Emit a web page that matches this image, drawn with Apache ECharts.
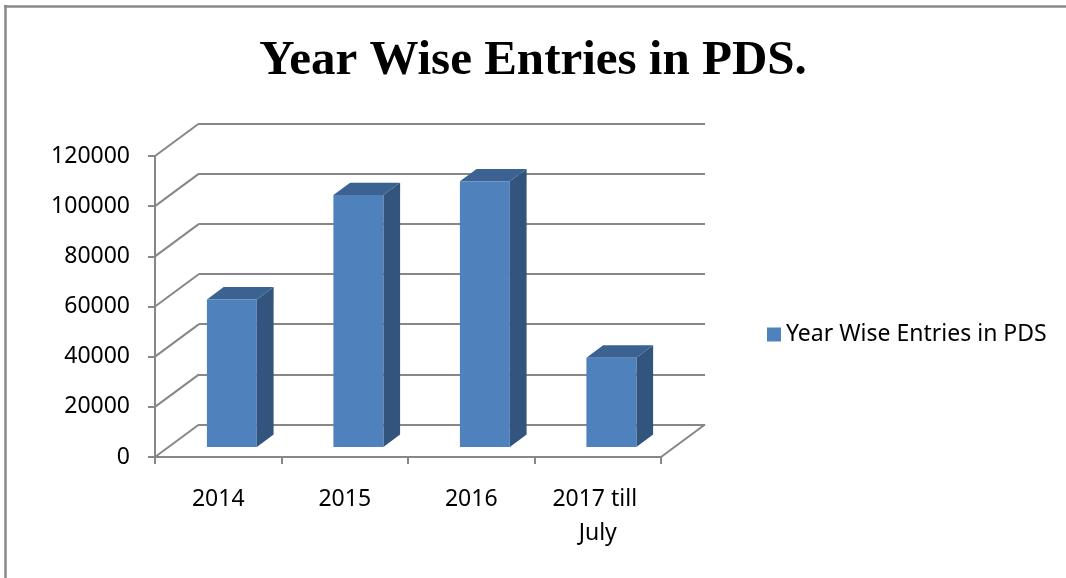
<!DOCTYPE html>
<html>
<head>
<meta charset="utf-8">
<script src="https://cdn.jsdelivr.net/npm/echarts@6/dist/echarts.min.js"></script>
<style>
html,body{margin:0;padding:0;background:#fff;}
#chart{width:1066px;height:578px;}
</style>
</head>
<body>
<div id="chart"></div>
<script>
// ---- data ----
const categories = ['2014', '2015', '2016', '2017 till July'];
const entries = [58800, 100400, 105900, 35600];
const seriesName = 'Year Wise Entries in PDS';
const titleText = 'Year Wise Entries in PDS.';
const yMin = 0, yMax = 120000, yInterval = 20000;

// ---- layout / style constants ----
const DX = 44, DY = 32.5;           // oblique depth offset of the back wall
const FRONT = {left: 155, top: 156, width: 506, height: 301};
const D0 = 0.31, D1 = 0.69;         // bar depth span (fraction of full depth)
const BAR_W = 0.395;                // bar width fraction of the band
const GRID_COLOR = '#878787';
const FONT = 'Noto Sans';

const yTicks = [];
for (let v = yMin; v <= yMax; v += yInterval) yTicks.push(v);

const chart = echarts.init(document.getElementById('chart'), null, {renderer: 'canvas'});

const option = {
  backgroundColor: '#fff',
  animation: false,
  title: {
    text: titleText,
    left: 'center',
    top: 32,
    textStyle: {fontFamily: 'Liberation Serif', fontWeight: 'bold', fontSize: 49, color: '#000'}
  },
  legend: {
    data: [seriesName],
    orient: 'vertical',
    left: 762,
    top: 318,
    icon: 'rect',
    itemWidth: 14,
    itemHeight: 14,
    textStyle: {fontFamily: FONT, fontSize: 23, color: '#000'}
  },
  graphic: [
    {type: 'line', shape: {x1: 4, y1: 6.5, x2: 1066, y2: 6.5}, style: {stroke: '#8a8a8a', lineWidth: 2.5}, silent: true},
    {type: 'line', shape: {x1: 5.5, y1: 5, x2: 5.5, y2: 578}, style: {stroke: '#8a8a8a', lineWidth: 2.5}, silent: true}
  ],
  grid: [
    {left: FRONT.left, top: FRONT.top, width: FRONT.width, height: FRONT.height},
    {left: FRONT.left + DX, top: FRONT.top - DY, width: FRONT.width, height: FRONT.height}
  ],
  xAxis: [
    {
      type: 'category', gridIndex: 0, data: categories,
      axisLine: {show: true, lineStyle: {color: GRID_COLOR, width: 2}},
      axisTick: {show: true, length: 7, lineStyle: {color: GRID_COLOR, width: 2}},
      axisLabel: {
        margin: 25, color: '#000', fontFamily: FONT, fontSize: 23, lineHeight: 34,
        width: 110, overflow: 'break', interval: 0
      },
      splitLine: {show: false}
    },
    {
      type: 'category', gridIndex: 1, data: categories,
      axisLine: {show: false}, axisTick: {show: false}, axisLabel: {show: false}, splitLine: {show: false}
    }
  ],
  yAxis: [
    {
      type: 'value', gridIndex: 0, min: yMin, max: yMax, interval: yInterval,
      axisLine: {show: true, lineStyle: {color: GRID_COLOR, width: 2}},
      axisTick: {show: true, length: 7, lineStyle: {color: GRID_COLOR, width: 2}},
      axisLabel: {margin: 25, color: '#000', fontFamily: FONT, fontSize: 23, formatter: v => String(v)},
      splitLine: {show: false}
    },
    {
      type: 'value', gridIndex: 1, min: yMin, max: yMax, interval: yInterval,
      axisLine: {show: false}, axisTick: {show: false}, axisLabel: {show: false},
      splitLine: {show: true, lineStyle: {color: GRID_COLOR, width: 2}}
    }
  ],
  series: [
    {
      // side wall and floor diagonals, one per y tick
      type: 'custom',
      name: 'walls',
      xAxisIndex: 0, yAxisIndex: 0,
      z: 1,
      silent: true,
      data: yTicks.map(v => [0, v]),
      renderItem: function (params, api) {
        const cs = params.coordSys;
        const y = api.coord([0, api.value(1)])[1];
        const children = [{
          type: 'line',
          shape: {x1: cs.x, y1: y, x2: cs.x + DX, y2: y - DY},
          style: {stroke: GRID_COLOR, lineWidth: 2}
        }];
        if (api.value(1) === yMin) {
          const xr = cs.x + cs.width;
          children.push({
            type: 'line',
            shape: {x1: xr, y1: y, x2: xr + DX, y2: y - DY},
            style: {stroke: GRID_COLOR, lineWidth: 2}
          });
        }
        return {type: 'group', children: children};
      }
    },
    {
      type: 'custom',
      name: seriesName,
      xAxisIndex: 0, yAxisIndex: 0,
      z: 5,
      itemStyle: {color: '#4F81BD'},
      data: entries.map((v, i) => [i, v]),
      renderItem: function (params, api) {
        const i = api.value(0), v = api.value(1);
        const base = api.coord([i, 0]);
        const top = api.coord([i, v]);
        const band = api.size([1, 0])[0];
        const w = band * BAR_W;
        const fx0 = base[0] - w / 2 + DX * D0;
        const fx1 = fx0 + w;
        const by = base[1] - DY * D0;
        const ty = top[1] - DY * D0;
        const ddx = DX * (D1 - D0), ddy = DY * (D1 - D0);
        return {
          type: 'group',
          children: [
            {type: 'polygon', shape: {points: [[fx1, ty], [fx1 + ddx, ty - ddy], [fx1 + ddx, by - ddy], [fx1, by]]},
             style: {fill: '#33547C'}},
            {type: 'polygon', shape: {points: [[fx0, ty], [fx0 + ddx, ty - ddy], [fx1 + ddx, ty - ddy], [fx1, ty]]},
             style: {fill: '#3B6291'}},
            {type: 'rect', shape: {x: fx0, y: ty, width: w, height: by - ty},
             style: {fill: '#4F81BD'}}
          ]
        };
      }
    }
  ]
};
chart.setOption(option);
</script>
</body>
</html>
